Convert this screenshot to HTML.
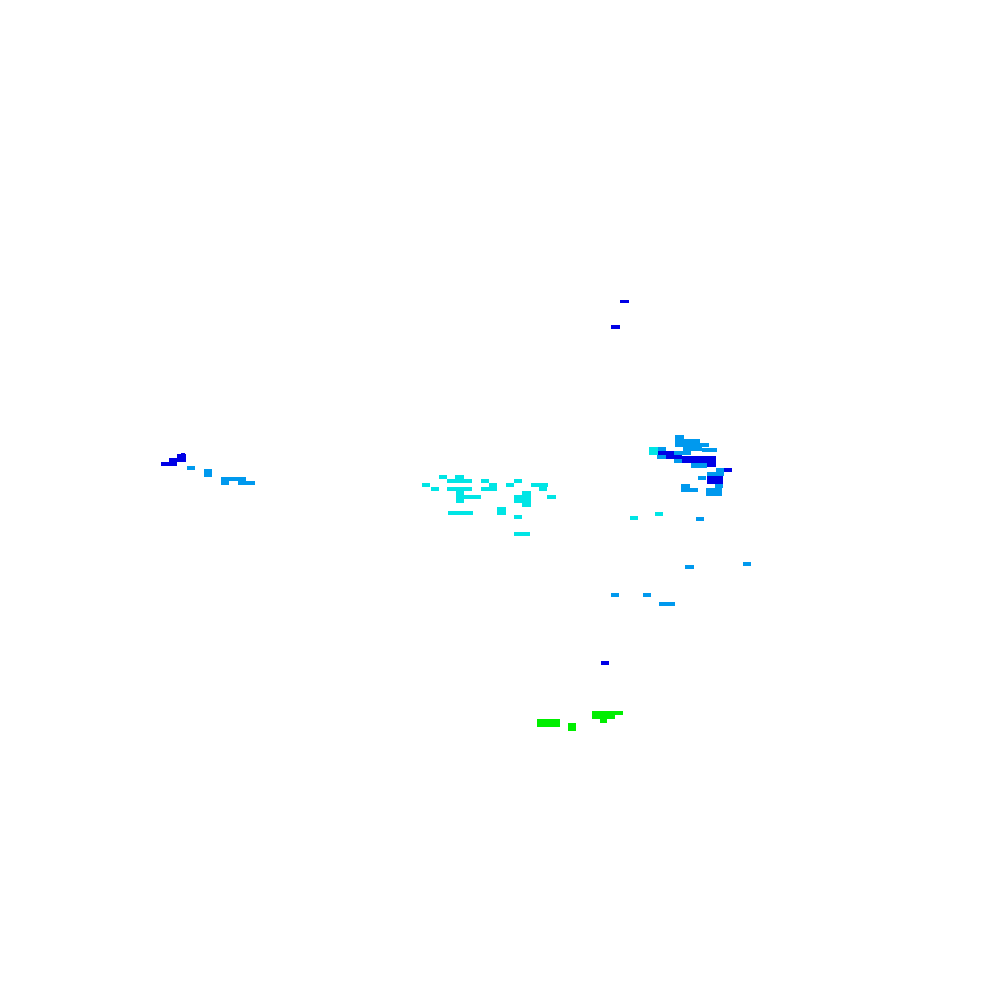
<!DOCTYPE html><html><head><style>body{margin:0;background:#fff}svg{display:block}</style></head><body>
<svg width="1000" height="1000" xmlns="http://www.w3.org/2000/svg">
<g fill="#0000e6">
<rect x="620" y="300" width="9" height="3"/><rect x="611" y="325" width="9" height="4"/>
<rect x="161" y="462" width="16" height="4"/><rect x="169" y="458" width="8" height="4"/><rect x="177" y="454" width="9" height="8"/><rect x="181" y="453" width="4" height="1"/>
<rect x="658" y="451" width="16" height="4"/><rect x="666" y="455" width="16" height="4"/><rect x="682" y="456" width="34" height="7"/><rect x="697" y="463" width="19" height="4"/>
<rect x="724" y="468" width="8" height="4"/><rect x="707" y="476" width="16" height="8"/>
<rect x="601" y="661" width="8" height="4"/>
</g>
<g fill="#0099ee">
<rect x="187" y="466" width="8" height="4"/><rect x="204" y="469" width="8" height="8"/><rect x="221" y="477" width="25" height="4"/><rect x="221" y="481" width="8" height="4"/><rect x="238" y="481" width="17" height="4"/>
<rect x="675" y="435" width="9" height="12"/><rect x="684" y="439" width="16" height="11"/><rect x="700" y="443" width="9" height="4"/><rect x="702" y="448" width="15" height="4"/><rect x="683" y="447" width="19" height="4"/>
<rect x="658" y="447" width="8" height="4"/><rect x="657" y="455" width="9" height="4"/><rect x="674" y="459" width="8" height="4"/><rect x="674" y="451" width="17" height="4"/><rect x="691" y="463" width="16" height="5"/>
<rect x="716" y="468" width="8" height="8"/><rect x="707" y="472" width="16" height="4"/><rect x="698" y="476" width="8" height="4"/>
<rect x="681" y="484" width="9" height="8"/><rect x="690" y="488" width="8" height="4"/><rect x="706" y="488" width="16" height="8"/><rect x="715" y="484" width="8" height="4"/>
<rect x="696" y="517" width="8" height="4"/>
<rect x="685" y="565" width="9" height="4"/><rect x="743" y="562" width="8" height="4"/><rect x="611" y="593" width="8" height="4"/><rect x="643" y="593" width="8" height="4"/><rect x="659" y="602" width="16" height="4"/>
</g>
<g fill="#00e5e5">
<rect x="649" y="447" width="9" height="8"/><rect x="655" y="512" width="8" height="4"/><rect x="630" y="516" width="8" height="4"/>
<rect x="439" y="475" width="8" height="4"/><rect x="455" y="475" width="9" height="4"/><rect x="447" y="479" width="25" height="4"/><rect x="422" y="483" width="8" height="4"/><rect x="431" y="487" width="8" height="4"/><rect x="447" y="487" width="9" height="4"/>
<rect x="456" y="487" width="16" height="4"/><rect x="456" y="491" width="8" height="12"/><rect x="464" y="495" width="17" height="4"/>
<rect x="481" y="479" width="8" height="4"/><rect x="481" y="487" width="16" height="4"/><rect x="489" y="483" width="8" height="4"/>
<rect x="514" y="479" width="8" height="4"/><rect x="506" y="483" width="8" height="4"/><rect x="531" y="483" width="17" height="4"/><rect x="539" y="487" width="8" height="4"/>
<rect x="522" y="491" width="9" height="16"/><rect x="514" y="495" width="8" height="8"/><rect x="547" y="495" width="9" height="4"/>
<rect x="448" y="511" width="25" height="4"/><rect x="497" y="507" width="9" height="8"/><rect x="514" y="515" width="8" height="4"/><rect x="514" y="532" width="16" height="4"/>
</g>
<g fill="#00ee00">
<rect x="537" y="719" width="23" height="8"/><rect x="568" y="723" width="8" height="8"/><rect x="592" y="711" width="31" height="4"/><rect x="592" y="715" width="23" height="4"/><rect x="600" y="719" width="7" height="4"/>
</g>
</svg></body></html>
